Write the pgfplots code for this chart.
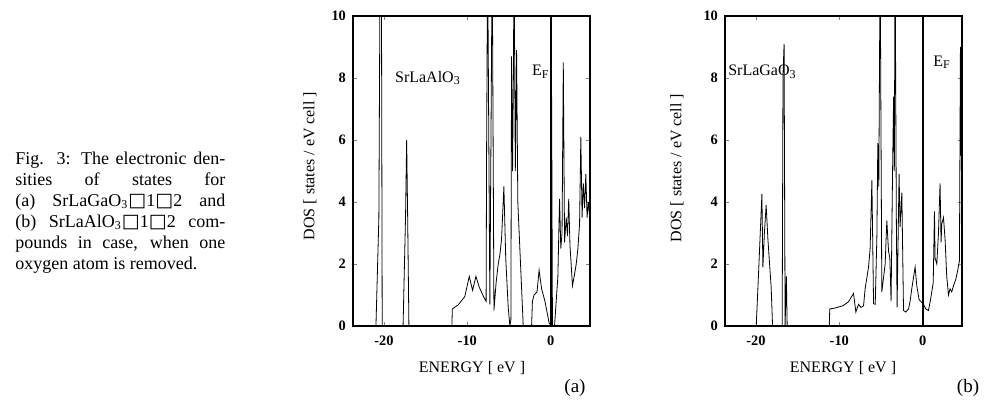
\documentclass[border=0pt]{standalone}
\usepackage{fontspec}
\setmainfont{Liberation Serif}
\newfontfamily\boxfont{DejaVu Sans}
\usepackage{pgfplots}
\pgfplotsset{compat=1.18}

\newcommand{\bx}{{\boxfont\fontsize{9.5}{10}\selectfont □}}

\pgfplotsset{dosaxis/.style={
  scale only axis, width=118.5pt, height=155pt, anchor=south west,
  xmin=-23.7, xmax=4.7, ymin=0, ymax=10,
  xtick={-20,-10,0}, xticklabels={-20,-10,0},
  ytick={0,2,4,6,8,10}, yticklabels={0,2,4,6,8,10},
  tick label style={font=\fontsize{7.2}{8}\selectfont\bfseries},
  xticklabel style={yshift=-1.5pt},
  tick align=inside, major tick length=2pt,
  axis line style={line width=0.6pt},
  no marks,
  cycle list={{black, line width=0.45pt}},
}}

\begin{document}
\begin{tikzpicture}
\useasboundingbox (0,0) rectangle (492pt,-202.5pt);

% caption block
\node[anchor=north west, inner sep=0, text width=105pt, align=justify,
      font=\fontsize{9}{10.5}\selectfont] at (7.5pt,-76pt)
  {Fig. 3: The electronic den-\linebreak
   sities of states for\linebreak
   (a) SrLaGaO\textsubscript{3}\bx1\bx2 and\linebreak
   (b) SrLaAlO\textsubscript{3}\bx1\bx2 com-\linebreak
   pounds in case, when one\linebreak
   oxygen atom is removed.};

% (a) SrLaAlO3
\begin{axis}[dosaxis, at={(176.5pt,-163pt)}]
\addplot coordinates {(-23.7,0) (-20.95,0) (-20.6,3.5) (-20.45,12) (-20.3,12) (-20.2,0)
  (-17.7,0) (-17.4,3.6) (-17.27,6) (-17.15,3.5) (-17.0,0)
  (-11.85,0) (-11.8,0.55) (-11.1,0.68) (-10.3,0.95) (-9.77,1.6) (-9.37,1.15) (-8.97,1.6)
  (-8.57,1.25) (-7.97,0.9) (-7.75,0.8) (-7.69,5.7) (-7.57,12) (-7.3,0.7) (-7.02,12)
  (-6.81,0.5) (-6.55,1.4) (-6.3,2.0) (-6.1,2.3) (-5.9,2.8) (-5.62,4.5) (-5.4,2.2)
  (-5.1,0.6) (-4.9,0) (-4.78,0.2) (-4.7,8.7) (-4.58,5.0) (-4.48,8.1) (-4.4,12)
  (-4.25,5.0) (-4.1,8.9) (-3.95,4.0) (-3.3,0) (-2.3,0) (-2.2,0.8) (-2.0,1.0) (-1.65,1.1)
  (-1.4,1.8) (-1.1,1.2) (-0.7,0.8) (-0.2,0.1) (0.05,0) (0.1,7.4) (0.2,0) (0.45,0)
  (0.85,1.6) (1.05,4.1) (1.2,2.5) (1.35,3.0) (1.5,8.5) (1.65,2.7) (1.85,3.5) (2.0,2.9)
  (2.15,4.1) (2.3,2.6) (2.6,1.3) (2.8,1.6) (3.05,2.0) (3.25,2.5) (3.45,3.3) (3.6,6.1)
  (3.75,3.5) (3.9,4.6) (4.05,3.8) (4.2,4.9) (4.35,3.5) (4.5,4.0) (4.7,3.4)};
\addplot[line width=1pt] coordinates {(0,0) (0,10)};
\node[anchor=west, inner sep=0, font=\fontsize{8}{9}\selectfont] at (axis cs:-18.7,8.0) {SrLaAlO\textsubscript{3}};
\node[inner sep=0, font=\fontsize{8}{9}\selectfont] at (axis cs:-1.2,8.2) {E\textsubscript{F}};
\end{axis}

% (b) SrLaGaO3
\begin{axis}[dosaxis, at={(362.5pt,-163pt)}]
\addplot coordinates {(-23.7,0) (-19.96,0) (-19.68,1.7) (-19.28,4.25) (-19.16,1.9) (-18.98,3.0)
  (-18.77,3.9) (-18.56,2.8) (-18.17,1.25) (-18.0,0)
  (-16.85,0) (-16.75,8.1) (-16.62,9.1) (-16.5,0) (-16.35,1.6) (-16.25,0)
  (-11.2,0) (-11.15,0.55) (-10.5,0.58) (-9.6,0.65) (-8.9,0.78) (-8.3,1.05) (-8.02,0.45)
  (-7.7,0.7) (-7.4,0.6) (-7.1,0.65) (-6.91,1.2) (-6.5,1.9) (-6.31,2.5) (-6.1,4.7)
  (-5.9,0.72) (-5.7,0.7) (-5.5,2.9) (-5.39,5.9) (-5.27,4.5) (-5.11,12) (-5.03,7.5)
  (-4.91,1.1) (-4.51,2.0) (-4.31,3.4) (-4.1,2.4) (-3.95,2.2) (-3.8,0.8) (-3.63,4.8)
  (-3.5,7.4) (-3.41,5.0) (-3.32,12) (-3.17,3.5) (-3.08,0.6) (-2.84,4.9) (-2.72,3.2)
  (-2.51,4.3) (-2.31,0.5) (-2.04,0.45) (-1.71,0.55) (-1.52,0.8) (-1.32,1.2) (-0.92,1.9)
  (-0.72,1.3) (-0.44,0.85) (0.08,0.7) (0.36,0.55) (0.68,0.5) (0.96,0.9) (1.25,1.4)
  (1.4,3.7) (1.47,2.2) (1.68,2.0) (1.88,3.0) (2.07,4.6) (2.19,2.7) (2.28,3.3) (2.48,3.5)
  (2.67,2.8) (2.87,1.6) (3.08,1.0) (3.27,1.2) (3.47,1.1) (3.68,1.3) (3.95,1.5)
  (4.19,1.8) (4.39,2.1) (4.51,9.0) (4.59,5.5) (4.7,6.5)};
\addplot[line width=1pt] coordinates {(0,0) (0,10)};
\node[anchor=west, inner sep=0, font=\fontsize{8}{9}\selectfont] at (axis cs:-23.35,8.2) {SrLaGaO\textsubscript{3}};
\node[inner sep=0, font=\fontsize{8}{9}\selectfont] at (axis cs:2.3,8.5) {E\textsubscript{F}};
\end{axis}

% axis labels and panel tags
\node[rotate=90, font=\fontsize{8}{9}\selectfont] at (155pt,-83pt) {DOS [ states / eV cell ]};
\node[rotate=90, font=\fontsize{8}{9}\selectfont] at (338.5pt,-84pt) {DOS [ states / eV cell ]};
\node[font=\fontsize{8}{9}\selectfont] at (236pt,-184pt) {ENERGY [ eV ]};
\node[font=\fontsize{8}{9}\selectfont] at (421.5pt,-184pt) {ENERGY [ eV ]};
\node[font=\fontsize{9.5}{10}\selectfont] at (287.5pt,-194pt) {(a)};
\node[font=\fontsize{9.5}{10}\selectfont] at (484pt,-194pt) {(b)};
\end{tikzpicture}
\end{document}
